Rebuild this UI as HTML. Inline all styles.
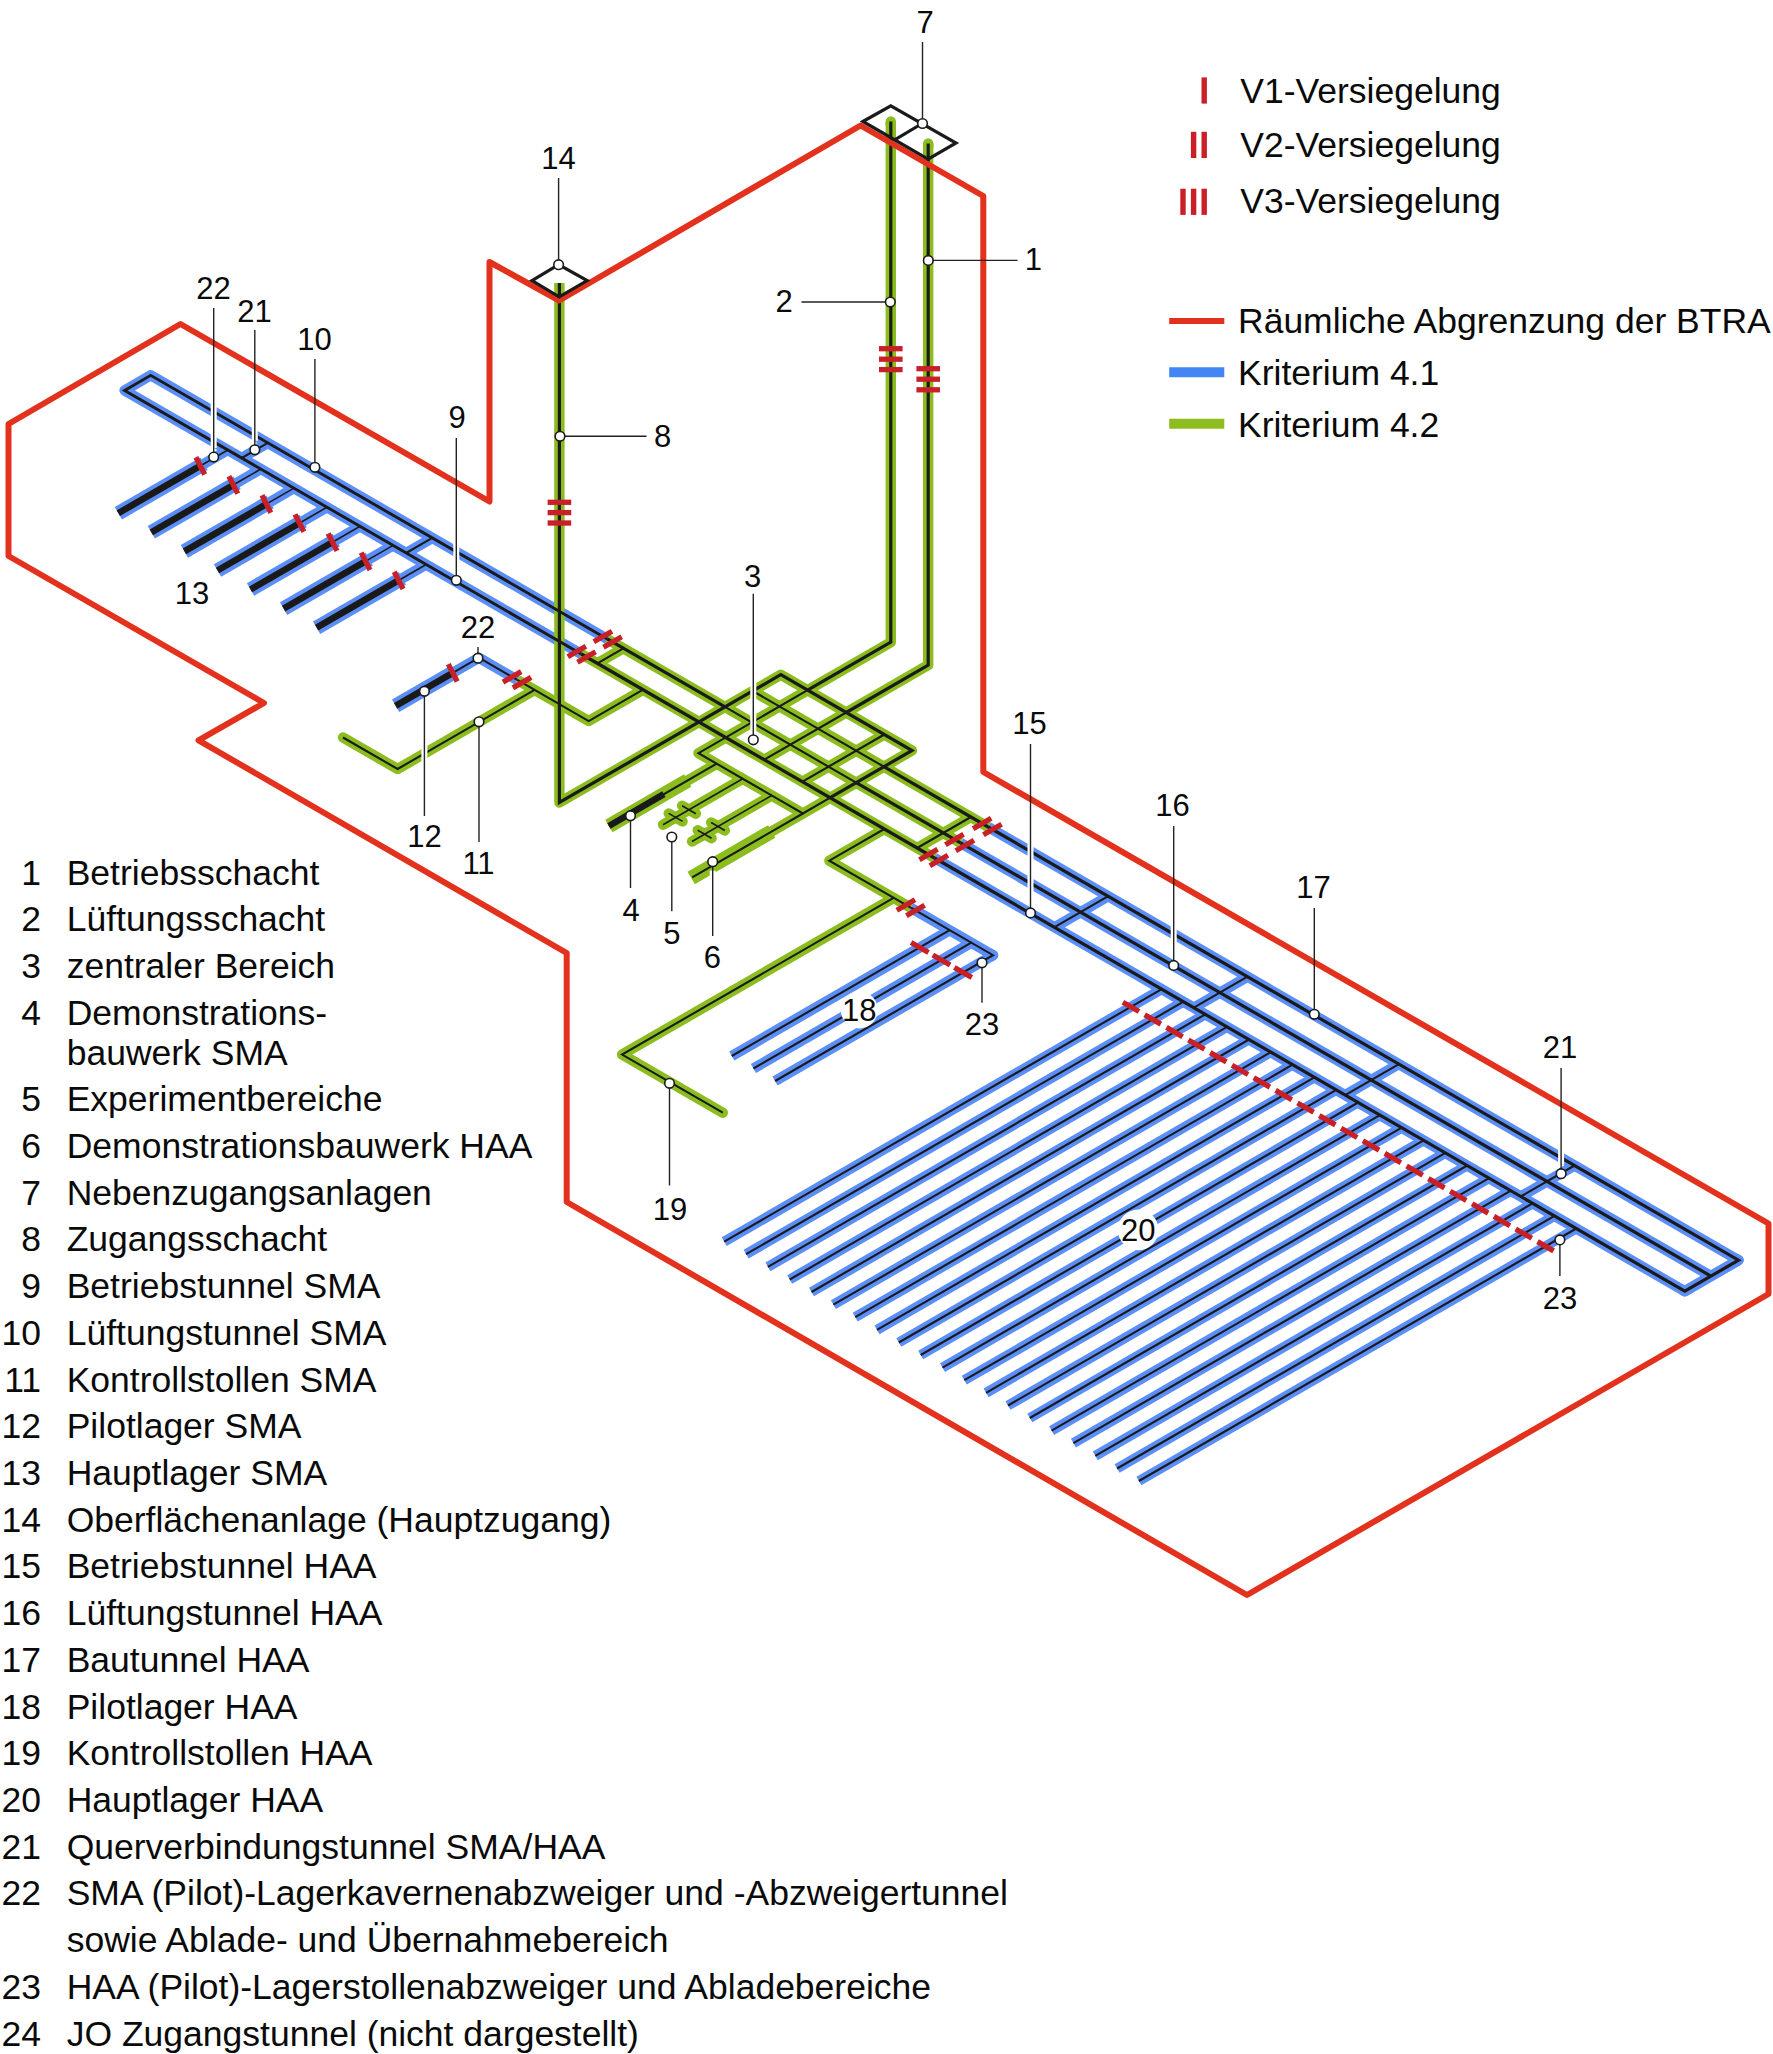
<!DOCTYPE html>
<html lang="de"><head><meta charset="utf-8"><title>Lagerkonzept BTRA</title>
<style>html,body{margin:0;padding:0;background:#fff}svg{display:block}text{font-family:"Liberation Sans",sans-serif}</style>
</head><body>
<svg width="1773" height="2054" viewBox="0 0 1773 2054">
<rect width="1773" height="2054" fill="#fff"/>
<g id="halo-blue"><path d="M581.2,654.0 L124.6,390.4 L150.7,375.3 L607.2,638.9" fill="none" stroke="#5b8ff7" stroke-width="10.40" stroke-linecap="round" stroke-linejoin="round"/>
<path d="M406.2,553.0 L432.3,537.9" fill="none" stroke="#5b8ff7" stroke-width="10.40" stroke-linecap="butt" stroke-linejoin="round"/>
<path d="M241.7,458.0 L267.8,442.9" fill="none" stroke="#5b8ff7" stroke-width="10.40" stroke-linecap="butt" stroke-linejoin="round"/>
<path d="M227.8,450.0 L200.6,465.7" fill="none" stroke="#5b8ff7" stroke-width="10.40" stroke-linecap="butt" stroke-linejoin="round"/>
<path d="M204.0,463.7 L118.3,513.2" fill="none" stroke="#5b8ff7" stroke-width="14.50" stroke-linecap="butt" stroke-linejoin="miter"/>
<path d="M260.9,469.0 L233.6,484.8" fill="none" stroke="#5b8ff7" stroke-width="10.40" stroke-linecap="butt" stroke-linejoin="round"/>
<path d="M237.1,482.8 L151.3,532.3" fill="none" stroke="#5b8ff7" stroke-width="14.50" stroke-linecap="butt" stroke-linejoin="miter"/>
<path d="M294.0,488.1 L266.7,503.9" fill="none" stroke="#5b8ff7" stroke-width="10.40" stroke-linecap="butt" stroke-linejoin="round"/>
<path d="M270.1,501.9 L184.4,551.4" fill="none" stroke="#5b8ff7" stroke-width="14.50" stroke-linecap="butt" stroke-linejoin="miter"/>
<path d="M327.0,507.2 L299.7,523.0" fill="none" stroke="#5b8ff7" stroke-width="10.40" stroke-linecap="butt" stroke-linejoin="round"/>
<path d="M303.2,521.0 L217.5,570.5" fill="none" stroke="#5b8ff7" stroke-width="14.50" stroke-linecap="butt" stroke-linejoin="miter"/>
<path d="M360.1,526.3 L332.8,542.0" fill="none" stroke="#5b8ff7" stroke-width="10.40" stroke-linecap="butt" stroke-linejoin="round"/>
<path d="M336.3,540.0 L250.5,589.5" fill="none" stroke="#5b8ff7" stroke-width="14.50" stroke-linecap="butt" stroke-linejoin="miter"/>
<path d="M393.1,545.4 L365.8,561.1" fill="none" stroke="#5b8ff7" stroke-width="10.40" stroke-linecap="butt" stroke-linejoin="round"/>
<path d="M369.3,559.1 L283.6,608.6" fill="none" stroke="#5b8ff7" stroke-width="14.50" stroke-linecap="butt" stroke-linejoin="miter"/>
<path d="M426.2,564.5 L398.9,580.2" fill="none" stroke="#5b8ff7" stroke-width="10.40" stroke-linecap="butt" stroke-linejoin="round"/>
<path d="M402.4,578.2 L316.6,627.7" fill="none" stroke="#5b8ff7" stroke-width="14.50" stroke-linecap="butt" stroke-linejoin="miter"/>
<path d="M451.5,673.6 L478.9,657.7 L517.3,679.9" fill="none" stroke="#5b8ff7" stroke-width="10.40" stroke-linecap="butt" stroke-linejoin="round"/>
<path d="M454.0,672.1 L395.6,705.8" fill="none" stroke="#5b8ff7" stroke-width="14.50" stroke-linecap="butt" stroke-linejoin="miter"/>
<path d="M910.7,907.7 L993.0,955.2 L775.1,1081.0" fill="none" stroke="#5b8ff7" stroke-width="10.40" stroke-linecap="butt" stroke-linejoin="round"/>
<path d="M990.4,953.7 L993.0,955.2 L990.4,956.7" fill="none" stroke="#5b8ff7" stroke-width="10.40" stroke-linecap="round" stroke-linejoin="round"/>
<path d="M949.7,930.2 L731.8,1056.0" fill="none" stroke="#5b8ff7" stroke-width="10.40" stroke-linecap="butt" stroke-linejoin="round"/>
<path d="M971.3,942.7 L753.4,1068.5" fill="none" stroke="#5b8ff7" stroke-width="10.40" stroke-linecap="butt" stroke-linejoin="round"/>
<path d="M934.5,858.0 L1684.8,1291.2 L1738.5,1260.2 L988.2,827.0" fill="none" stroke="#5b8ff7" stroke-width="10.40" stroke-linecap="butt" stroke-linejoin="round"/>
<path d="M1682.2,1289.7 L1684.8,1291.2 L1738.5,1260.2 L1735.9,1258.7" fill="none" stroke="#5b8ff7" stroke-width="10.40" stroke-linecap="round" stroke-linejoin="round"/>
<path d="M960.6,842.9 L1710.9,1276.1" fill="none" stroke="#5b8ff7" stroke-width="10.40" stroke-linecap="butt" stroke-linejoin="round"/>
<path d="M1054.6,927.2 L1108.2,896.2" fill="none" stroke="#5b8ff7" stroke-width="10.40" stroke-linecap="butt" stroke-linejoin="round"/>
<path d="M1193.8,1007.7 L1247.5,976.7" fill="none" stroke="#5b8ff7" stroke-width="10.40" stroke-linecap="butt" stroke-linejoin="round"/>
<path d="M1345.2,1095.1 L1398.9,1064.1" fill="none" stroke="#5b8ff7" stroke-width="10.40" stroke-linecap="butt" stroke-linejoin="round"/>
<path d="M1520.8,1196.5 L1574.5,1165.5" fill="none" stroke="#5b8ff7" stroke-width="10.40" stroke-linecap="butt" stroke-linejoin="round"/>
<path d="M1161.7,989.1 L724.2,1241.7" fill="none" stroke="#5b8ff7" stroke-width="10.00" stroke-linecap="butt" stroke-linejoin="miter"/>
<path d="M1183.5,1001.7 L746.1,1254.2" fill="none" stroke="#5b8ff7" stroke-width="10.00" stroke-linecap="butt" stroke-linejoin="miter"/>
<path d="M1205.3,1014.3 L767.9,1266.8" fill="none" stroke="#5b8ff7" stroke-width="10.00" stroke-linecap="butt" stroke-linejoin="miter"/>
<path d="M1227.1,1026.9 L789.7,1279.5" fill="none" stroke="#5b8ff7" stroke-width="10.00" stroke-linecap="butt" stroke-linejoin="miter"/>
<path d="M1249.0,1039.5 L811.5,1292.0" fill="none" stroke="#5b8ff7" stroke-width="10.00" stroke-linecap="butt" stroke-linejoin="miter"/>
<path d="M1270.8,1052.1 L833.4,1304.7" fill="none" stroke="#5b8ff7" stroke-width="10.00" stroke-linecap="butt" stroke-linejoin="miter"/>
<path d="M1292.6,1064.7 L855.2,1317.2" fill="none" stroke="#5b8ff7" stroke-width="10.00" stroke-linecap="butt" stroke-linejoin="miter"/>
<path d="M1314.4,1077.3 L877.0,1329.8" fill="none" stroke="#5b8ff7" stroke-width="10.00" stroke-linecap="butt" stroke-linejoin="miter"/>
<path d="M1336.3,1089.9 L898.8,1342.5" fill="none" stroke="#5b8ff7" stroke-width="10.00" stroke-linecap="butt" stroke-linejoin="miter"/>
<path d="M1358.1,1102.5 L920.7,1355.0" fill="none" stroke="#5b8ff7" stroke-width="10.00" stroke-linecap="butt" stroke-linejoin="miter"/>
<path d="M1379.9,1115.1 L942.5,1367.6" fill="none" stroke="#5b8ff7" stroke-width="10.00" stroke-linecap="butt" stroke-linejoin="miter"/>
<path d="M1401.7,1127.7 L964.3,1380.2" fill="none" stroke="#5b8ff7" stroke-width="10.00" stroke-linecap="butt" stroke-linejoin="miter"/>
<path d="M1423.6,1140.3 L986.1,1392.8" fill="none" stroke="#5b8ff7" stroke-width="10.00" stroke-linecap="butt" stroke-linejoin="miter"/>
<path d="M1445.4,1152.9 L1008.0,1405.5" fill="none" stroke="#5b8ff7" stroke-width="10.00" stroke-linecap="butt" stroke-linejoin="miter"/>
<path d="M1467.2,1165.5 L1029.8,1418.0" fill="none" stroke="#5b8ff7" stroke-width="10.00" stroke-linecap="butt" stroke-linejoin="miter"/>
<path d="M1489.0,1178.1 L1051.6,1430.6" fill="none" stroke="#5b8ff7" stroke-width="10.00" stroke-linecap="butt" stroke-linejoin="miter"/>
<path d="M1510.9,1190.7 L1073.4,1443.2" fill="none" stroke="#5b8ff7" stroke-width="10.00" stroke-linecap="butt" stroke-linejoin="miter"/>
<path d="M1532.7,1203.3 L1095.3,1455.8" fill="none" stroke="#5b8ff7" stroke-width="10.00" stroke-linecap="butt" stroke-linejoin="miter"/>
<path d="M1554.5,1215.9 L1117.1,1468.5" fill="none" stroke="#5b8ff7" stroke-width="10.00" stroke-linecap="butt" stroke-linejoin="miter"/>
<path d="M1576.3,1228.5 L1138.9,1481.0" fill="none" stroke="#5b8ff7" stroke-width="10.00" stroke-linecap="butt" stroke-linejoin="miter"/></g>
<g id="halo-green"><path d="M607.2,638.9 L725.0,706.9" fill="none" stroke="#8cbd1f" stroke-width="10.40" stroke-linecap="butt" stroke-linejoin="round"/>
<path d="M725.0,706.9 L856.2,782.7" fill="none" stroke="#8cbd1f" stroke-width="10.40" stroke-linecap="butt" stroke-linejoin="round"/>
<path d="M856.2,782.7 L960.6,842.9" fill="none" stroke="#8cbd1f" stroke-width="10.40" stroke-linecap="butt" stroke-linejoin="round"/>
<path d="M581.2,654.0 L934.5,858.0" fill="none" stroke="#8cbd1f" stroke-width="10.40" stroke-linecap="butt" stroke-linejoin="round"/>
<path d="M752.7,691.0 L883.9,766.7" fill="none" stroke="#8cbd1f" stroke-width="10.40" stroke-linecap="butt" stroke-linejoin="round"/>
<path d="M883.9,766.7 L988.2,827.0" fill="none" stroke="#8cbd1f" stroke-width="10.40" stroke-linecap="butt" stroke-linejoin="round"/>
<path d="M559.4,283.0 L559.4,802.5 L780.8,674.7 L912.0,750.5 L830.2,797.7" fill="none" stroke="#8cbd1f" stroke-width="10.40" stroke-linecap="butt" stroke-linejoin="round"/>
<path d="M830.2,797.7 L802.9,813.5 L698.5,753.2 L807.6,690.2" fill="none" stroke="#8cbd1f" stroke-width="10.40" stroke-linecap="butt" stroke-linejoin="round"/>
<path d="M807.6,690.2 L890.8,642.2 L890.8,121.5" fill="none" stroke="#8cbd1f" stroke-width="10.40" stroke-linecap="butt" stroke-linejoin="round"/>
<path d="M846.2,712.5 L928.2,665.1 L928.2,143.5" fill="none" stroke="#8cbd1f" stroke-width="10.40" stroke-linecap="butt" stroke-linejoin="round"/>
<path d="M890.8,121.5 L890.8,125.0" fill="none" stroke="#8cbd1f" stroke-width="10.40" stroke-linecap="round" stroke-linejoin="miter"/>
<path d="M928.2,143.5 L928.2,147.0" fill="none" stroke="#8cbd1f" stroke-width="10.40" stroke-linecap="round" stroke-linejoin="miter"/>
<path d="M846.2,712.5 L764.3,759.7" fill="none" stroke="#8cbd1f" stroke-width="10.40" stroke-linecap="butt" stroke-linejoin="round"/>
<path d="M884.3,734.5 L802.5,781.7" fill="none" stroke="#8cbd1f" stroke-width="10.40" stroke-linecap="butt" stroke-linejoin="round"/>
<path d="M597.4,663.3 L623.4,648.3" fill="none" stroke="#8cbd1f" stroke-width="10.40" stroke-linecap="butt" stroke-linejoin="round"/>
<path d="M517.3,679.9 L588.7,721.1 L643.1,689.7" fill="none" stroke="#8cbd1f" stroke-width="10.40" stroke-linecap="butt" stroke-linejoin="round"/>
<path d="M534.6,689.9 L397.6,769.0 L343.0,737.5" fill="none" stroke="#8cbd1f" stroke-width="10.40" stroke-linecap="round" stroke-linejoin="round"/>
<path d="M716.7,763.7 L608.9,826.0" fill="none" stroke="#8cbd1f" stroke-width="10.40" stroke-linecap="butt" stroke-linejoin="round"/>
<path d="M687.7,780.5 L608.9,826.0" fill="none" stroke="#8cbd1f" stroke-width="14.50" stroke-linecap="butt" stroke-linejoin="miter"/>
<path d="M742.7,778.7 L663.0,824.7" fill="none" stroke="#8cbd1f" stroke-width="10.40" stroke-linecap="round" stroke-linejoin="round"/>
<path d="M682.1,805.7 L695.9,813.7" fill="none" stroke="#8cbd1f" stroke-width="10.40" stroke-linecap="round" stroke-linejoin="round"/>
<path d="M668.7,813.4 L682.6,821.4" fill="none" stroke="#8cbd1f" stroke-width="10.40" stroke-linecap="round" stroke-linejoin="round"/>
<path d="M771.7,795.5 L692.0,841.5" fill="none" stroke="#8cbd1f" stroke-width="10.40" stroke-linecap="round" stroke-linejoin="round"/>
<path d="M711.1,822.5 L724.9,830.5" fill="none" stroke="#8cbd1f" stroke-width="10.40" stroke-linecap="round" stroke-linejoin="round"/>
<path d="M697.7,830.2 L711.6,838.2" fill="none" stroke="#8cbd1f" stroke-width="10.40" stroke-linecap="round" stroke-linejoin="round"/>
<path d="M802.9,813.5 L692.2,877.4" fill="none" stroke="#8cbd1f" stroke-width="10.40" stroke-linecap="butt" stroke-linejoin="round"/>
<path d="M771.7,831.5 L691.2,878.0" fill="none" stroke="#8cbd1f" stroke-width="14.50" stroke-linecap="butt" stroke-linejoin="miter"/>
<path d="M917.2,848.0 L970.9,817.0" fill="none" stroke="#8cbd1f" stroke-width="10.40" stroke-linecap="butt" stroke-linejoin="round"/>
<path d="M884.3,829.0 L829.3,860.7 L910.7,907.7" fill="none" stroke="#8cbd1f" stroke-width="10.40" stroke-linecap="butt" stroke-linejoin="round"/>
<path d="M893.6,897.9 L622.1,1054.6 L722.8,1112.7" fill="none" stroke="#8cbd1f" stroke-width="10.40" stroke-linecap="round" stroke-linejoin="round"/></g>
<g id="black"><path d="M581.2,654.0 L124.6,390.4 L150.7,375.3 L607.2,638.9" fill="none" stroke="#1a1a1a" stroke-width="2.90" stroke-linecap="butt" stroke-linejoin="miter"/>
<path d="M607.2,638.9 L725.0,706.9" fill="none" stroke="#1a1a1a" stroke-width="3.20" stroke-linecap="butt" stroke-linejoin="miter"/>
<path d="M725.0,706.9 L856.2,782.7" fill="none" stroke="#1a1a1a" stroke-width="2.10" stroke-linecap="butt" stroke-linejoin="miter"/>
<path d="M856.2,782.7 L960.6,842.9" fill="none" stroke="#1a1a1a" stroke-width="3.20" stroke-linecap="butt" stroke-linejoin="miter"/>
<path d="M581.2,654.0 L934.5,858.0" fill="none" stroke="#1a1a1a" stroke-width="3.20" stroke-linecap="butt" stroke-linejoin="miter"/>
<path d="M752.7,691.0 L883.9,766.7" fill="none" stroke="#1a1a1a" stroke-width="2.10" stroke-linecap="butt" stroke-linejoin="miter"/>
<path d="M883.9,766.7 L988.2,827.0" fill="none" stroke="#1a1a1a" stroke-width="3.20" stroke-linecap="butt" stroke-linejoin="miter"/>
<path d="M559.4,283.0 L559.4,802.5 L780.8,674.7 L912.0,750.5 L830.2,797.7" fill="none" stroke="#1a1a1a" stroke-width="3.20" stroke-linecap="butt" stroke-linejoin="miter"/>
<path d="M830.2,797.7 L802.9,813.5 L698.5,753.2 L807.6,690.2" fill="none" stroke="#1a1a1a" stroke-width="2.10" stroke-linecap="butt" stroke-linejoin="miter"/>
<path d="M807.6,690.2 L890.8,642.2 L890.8,121.5" fill="none" stroke="#1a1a1a" stroke-width="3.20" stroke-linecap="butt" stroke-linejoin="miter"/>
<path d="M846.2,712.5 L928.2,665.1 L928.2,143.5" fill="none" stroke="#1a1a1a" stroke-width="3.20" stroke-linecap="butt" stroke-linejoin="miter"/>
<path d="M846.2,712.5 L764.3,759.7" fill="none" stroke="#1a1a1a" stroke-width="2.10" stroke-linecap="butt" stroke-linejoin="miter"/>
<path d="M884.3,734.5 L802.5,781.7" fill="none" stroke="#1a1a1a" stroke-width="2.10" stroke-linecap="butt" stroke-linejoin="miter"/>
<path d="M597.4,663.3 L623.4,648.3" fill="none" stroke="#1a1a1a" stroke-width="2.10" stroke-linecap="butt" stroke-linejoin="miter"/>
<path d="M406.2,553.0 L432.3,537.9" fill="none" stroke="#1a1a1a" stroke-width="2.10" stroke-linecap="butt" stroke-linejoin="miter"/>
<path d="M241.7,458.0 L267.8,442.9" fill="none" stroke="#1a1a1a" stroke-width="2.10" stroke-linecap="butt" stroke-linejoin="miter"/>
<path d="M227.8,450.0 L200.6,465.7" fill="none" stroke="#1a1a1a" stroke-width="1.60" stroke-linecap="butt" stroke-linejoin="miter"/>
<path d="M200.6,465.7 L118.3,513.2" fill="none" stroke="#1a1a1a" stroke-width="6.60" stroke-linecap="butt" stroke-linejoin="miter"/>
<path d="M260.9,469.0 L233.6,484.8" fill="none" stroke="#1a1a1a" stroke-width="1.60" stroke-linecap="butt" stroke-linejoin="miter"/>
<path d="M233.6,484.8 L151.3,532.3" fill="none" stroke="#1a1a1a" stroke-width="6.60" stroke-linecap="butt" stroke-linejoin="miter"/>
<path d="M294.0,488.1 L266.7,503.9" fill="none" stroke="#1a1a1a" stroke-width="1.60" stroke-linecap="butt" stroke-linejoin="miter"/>
<path d="M266.7,503.9 L184.4,551.4" fill="none" stroke="#1a1a1a" stroke-width="6.60" stroke-linecap="butt" stroke-linejoin="miter"/>
<path d="M327.0,507.2 L299.7,523.0" fill="none" stroke="#1a1a1a" stroke-width="1.60" stroke-linecap="butt" stroke-linejoin="miter"/>
<path d="M299.7,523.0 L217.5,570.5" fill="none" stroke="#1a1a1a" stroke-width="6.60" stroke-linecap="butt" stroke-linejoin="miter"/>
<path d="M360.1,526.3 L332.8,542.0" fill="none" stroke="#1a1a1a" stroke-width="1.60" stroke-linecap="butt" stroke-linejoin="miter"/>
<path d="M332.8,542.0 L250.5,589.5" fill="none" stroke="#1a1a1a" stroke-width="6.60" stroke-linecap="butt" stroke-linejoin="miter"/>
<path d="M393.1,545.4 L365.8,561.1" fill="none" stroke="#1a1a1a" stroke-width="1.60" stroke-linecap="butt" stroke-linejoin="miter"/>
<path d="M365.8,561.1 L283.6,608.6" fill="none" stroke="#1a1a1a" stroke-width="6.60" stroke-linecap="butt" stroke-linejoin="miter"/>
<path d="M426.2,564.5 L398.9,580.2" fill="none" stroke="#1a1a1a" stroke-width="1.60" stroke-linecap="butt" stroke-linejoin="miter"/>
<path d="M398.9,580.2 L316.6,627.7" fill="none" stroke="#1a1a1a" stroke-width="6.60" stroke-linecap="butt" stroke-linejoin="miter"/>
<path d="M451.5,673.6 L478.9,657.7 L517.3,679.9" fill="none" stroke="#1a1a1a" stroke-width="2.10" stroke-linecap="butt" stroke-linejoin="miter"/>
<path d="M451.5,673.6 L395.6,705.8" fill="none" stroke="#1a1a1a" stroke-width="6.60" stroke-linecap="butt" stroke-linejoin="miter"/>
<path d="M517.3,679.9 L588.7,721.1 L643.1,689.7" fill="none" stroke="#1a1a1a" stroke-width="2.10" stroke-linecap="butt" stroke-linejoin="miter"/>
<path d="M534.6,689.9 L397.6,769.0 L343.0,737.5" fill="none" stroke="#1a1a1a" stroke-width="2.10" stroke-linecap="butt" stroke-linejoin="miter"/>
<path d="M716.7,763.7 L608.9,826.0" fill="none" stroke="#1a1a1a" stroke-width="2.10" stroke-linecap="butt" stroke-linejoin="miter"/>
<path d="M663.9,794.2 L608.9,826.0" fill="none" stroke="#1a1a1a" stroke-width="6.60" stroke-linecap="butt" stroke-linejoin="miter"/>
<path d="M742.7,778.7 L663.0,824.7" fill="none" stroke="#1a1a1a" stroke-width="1.60" stroke-linecap="butt" stroke-linejoin="miter"/>
<path d="M682.1,805.7 L695.9,813.7" fill="none" stroke="#1a1a1a" stroke-width="1.60" stroke-linecap="butt" stroke-linejoin="miter"/>
<path d="M668.7,813.4 L682.6,821.4" fill="none" stroke="#1a1a1a" stroke-width="1.60" stroke-linecap="butt" stroke-linejoin="miter"/>
<path d="M771.7,795.5 L692.0,841.5" fill="none" stroke="#1a1a1a" stroke-width="1.60" stroke-linecap="butt" stroke-linejoin="miter"/>
<path d="M711.1,822.5 L724.9,830.5" fill="none" stroke="#1a1a1a" stroke-width="1.60" stroke-linecap="butt" stroke-linejoin="miter"/>
<path d="M697.7,830.2 L711.6,838.2" fill="none" stroke="#1a1a1a" stroke-width="1.60" stroke-linecap="butt" stroke-linejoin="miter"/>
<path d="M802.9,813.5 L692.2,877.4" fill="none" stroke="#1a1a1a" stroke-width="2.10" stroke-linecap="butt" stroke-linejoin="miter"/>
<path d="M917.2,848.0 L970.9,817.0" fill="none" stroke="#1a1a1a" stroke-width="2.10" stroke-linecap="butt" stroke-linejoin="miter"/>
<path d="M884.3,829.0 L829.3,860.7 L910.7,907.7" fill="none" stroke="#1a1a1a" stroke-width="2.10" stroke-linecap="butt" stroke-linejoin="miter"/>
<path d="M893.6,897.9 L622.1,1054.6 L722.8,1112.7" fill="none" stroke="#1a1a1a" stroke-width="2.10" stroke-linecap="butt" stroke-linejoin="miter"/>
<path d="M910.7,907.7 L993.0,955.2 L775.1,1081.0" fill="none" stroke="#1a1a1a" stroke-width="2.10" stroke-linecap="butt" stroke-linejoin="miter"/>
<path d="M949.7,930.2 L731.8,1056.0" fill="none" stroke="#1a1a1a" stroke-width="2.10" stroke-linecap="butt" stroke-linejoin="miter"/>
<path d="M971.3,942.7 L753.4,1068.5" fill="none" stroke="#1a1a1a" stroke-width="2.10" stroke-linecap="butt" stroke-linejoin="miter"/>
<path d="M934.5,858.0 L1684.8,1291.2 L1738.5,1260.2 L988.2,827.0" fill="none" stroke="#1a1a1a" stroke-width="3.20" stroke-linecap="butt" stroke-linejoin="miter"/>
<path d="M960.6,842.9 L1710.9,1276.1" fill="none" stroke="#1a1a1a" stroke-width="3.20" stroke-linecap="butt" stroke-linejoin="miter"/>
<path d="M1054.6,927.2 L1108.2,896.2" fill="none" stroke="#1a1a1a" stroke-width="2.10" stroke-linecap="butt" stroke-linejoin="miter"/>
<path d="M1193.8,1007.7 L1247.5,976.7" fill="none" stroke="#1a1a1a" stroke-width="2.10" stroke-linecap="butt" stroke-linejoin="miter"/>
<path d="M1345.2,1095.1 L1398.9,1064.1" fill="none" stroke="#1a1a1a" stroke-width="2.10" stroke-linecap="butt" stroke-linejoin="miter"/>
<path d="M1520.8,1196.5 L1574.5,1165.5" fill="none" stroke="#1a1a1a" stroke-width="2.10" stroke-linecap="butt" stroke-linejoin="miter"/>
<path d="M1161.7,989.1 L724.2,1241.7" fill="none" stroke="#1a1a1a" stroke-width="2.10" stroke-linecap="butt" stroke-linejoin="miter"/>
<path d="M1183.5,1001.7 L746.1,1254.2" fill="none" stroke="#1a1a1a" stroke-width="2.10" stroke-linecap="butt" stroke-linejoin="miter"/>
<path d="M1205.3,1014.3 L767.9,1266.8" fill="none" stroke="#1a1a1a" stroke-width="2.10" stroke-linecap="butt" stroke-linejoin="miter"/>
<path d="M1227.1,1026.9 L789.7,1279.5" fill="none" stroke="#1a1a1a" stroke-width="2.10" stroke-linecap="butt" stroke-linejoin="miter"/>
<path d="M1249.0,1039.5 L811.5,1292.0" fill="none" stroke="#1a1a1a" stroke-width="2.10" stroke-linecap="butt" stroke-linejoin="miter"/>
<path d="M1270.8,1052.1 L833.4,1304.7" fill="none" stroke="#1a1a1a" stroke-width="2.10" stroke-linecap="butt" stroke-linejoin="miter"/>
<path d="M1292.6,1064.7 L855.2,1317.2" fill="none" stroke="#1a1a1a" stroke-width="2.10" stroke-linecap="butt" stroke-linejoin="miter"/>
<path d="M1314.4,1077.3 L877.0,1329.8" fill="none" stroke="#1a1a1a" stroke-width="2.10" stroke-linecap="butt" stroke-linejoin="miter"/>
<path d="M1336.3,1089.9 L898.8,1342.5" fill="none" stroke="#1a1a1a" stroke-width="2.10" stroke-linecap="butt" stroke-linejoin="miter"/>
<path d="M1358.1,1102.5 L920.7,1355.0" fill="none" stroke="#1a1a1a" stroke-width="2.10" stroke-linecap="butt" stroke-linejoin="miter"/>
<path d="M1379.9,1115.1 L942.5,1367.6" fill="none" stroke="#1a1a1a" stroke-width="2.10" stroke-linecap="butt" stroke-linejoin="miter"/>
<path d="M1401.7,1127.7 L964.3,1380.2" fill="none" stroke="#1a1a1a" stroke-width="2.10" stroke-linecap="butt" stroke-linejoin="miter"/>
<path d="M1423.6,1140.3 L986.1,1392.8" fill="none" stroke="#1a1a1a" stroke-width="2.10" stroke-linecap="butt" stroke-linejoin="miter"/>
<path d="M1445.4,1152.9 L1008.0,1405.5" fill="none" stroke="#1a1a1a" stroke-width="2.10" stroke-linecap="butt" stroke-linejoin="miter"/>
<path d="M1467.2,1165.5 L1029.8,1418.0" fill="none" stroke="#1a1a1a" stroke-width="2.10" stroke-linecap="butt" stroke-linejoin="miter"/>
<path d="M1489.0,1178.1 L1051.6,1430.6" fill="none" stroke="#1a1a1a" stroke-width="2.10" stroke-linecap="butt" stroke-linejoin="miter"/>
<path d="M1510.9,1190.7 L1073.4,1443.2" fill="none" stroke="#1a1a1a" stroke-width="2.10" stroke-linecap="butt" stroke-linejoin="miter"/>
<path d="M1532.7,1203.3 L1095.3,1455.8" fill="none" stroke="#1a1a1a" stroke-width="2.10" stroke-linecap="butt" stroke-linejoin="miter"/>
<path d="M1554.5,1215.9 L1117.1,1468.5" fill="none" stroke="#1a1a1a" stroke-width="2.10" stroke-linecap="butt" stroke-linejoin="miter"/>
<path d="M1576.3,1228.5 L1138.9,1481.0" fill="none" stroke="#1a1a1a" stroke-width="2.10" stroke-linecap="butt" stroke-linejoin="miter"/></g>
<g id="seals" stroke="#c92027" stroke-width="5.3" fill="none"><line x1="195.9" y1="457.2" x2="204.7" y2="474.5"/>
<line x1="228.9" y1="476.2" x2="237.8" y2="493.6"/>
<line x1="262.0" y1="495.3" x2="270.8" y2="512.7"/>
<line x1="295.0" y1="514.4" x2="303.9" y2="531.8"/>
<line x1="328.1" y1="533.5" x2="337.0" y2="550.9"/>
<line x1="361.2" y1="552.6" x2="370.0" y2="570.0"/>
<line x1="394.2" y1="571.7" x2="403.1" y2="589.0"/>
<line x1="448.3" y1="664.1" x2="457.2" y2="681.5"/>
<line x1="911.1" y1="942.5" x2="928.5" y2="952.5"/>
<line x1="932.8" y1="955.0" x2="950.1" y2="965.0"/>
<line x1="954.4" y1="967.5" x2="971.8" y2="977.5"/>
<line x1="1122.9" y1="1002.2" x2="1139.0" y2="1011.5"/>
<line x1="1144.7" y1="1014.8" x2="1160.8" y2="1024.1"/>
<line x1="1166.5" y1="1027.4" x2="1182.6" y2="1036.7"/>
<line x1="1188.4" y1="1040.0" x2="1204.5" y2="1049.3"/>
<line x1="1210.2" y1="1052.6" x2="1226.3" y2="1061.9"/>
<line x1="1232.0" y1="1065.2" x2="1248.1" y2="1074.5"/>
<line x1="1253.8" y1="1077.8" x2="1269.9" y2="1087.1"/>
<line x1="1275.6" y1="1090.4" x2="1291.8" y2="1099.7"/>
<line x1="1297.5" y1="1103.0" x2="1313.6" y2="1112.3"/>
<line x1="1319.3" y1="1115.6" x2="1335.4" y2="1124.9"/>
<line x1="1341.1" y1="1128.2" x2="1357.2" y2="1137.5"/>
<line x1="1362.9" y1="1140.8" x2="1379.1" y2="1150.1"/>
<line x1="1384.8" y1="1153.4" x2="1400.9" y2="1162.7"/>
<line x1="1406.6" y1="1166.0" x2="1422.7" y2="1175.3"/>
<line x1="1428.4" y1="1178.6" x2="1444.5" y2="1187.9"/>
<line x1="1450.2" y1="1191.2" x2="1466.3" y2="1200.5"/>
<line x1="1472.1" y1="1203.8" x2="1488.2" y2="1213.1"/>
<line x1="1493.9" y1="1216.4" x2="1510.0" y2="1225.7"/>
<line x1="1515.7" y1="1229.0" x2="1531.8" y2="1238.3"/>
<line x1="1537.5" y1="1241.6" x2="1553.6" y2="1250.9"/>
<line x1="593.8" y1="641.7" x2="612.0" y2="631.2"/>
<line x1="567.8" y1="656.7" x2="585.9" y2="646.2"/>
<line x1="603.5" y1="647.3" x2="621.7" y2="636.8"/>
<line x1="577.5" y1="662.3" x2="595.6" y2="651.8"/>
<line x1="973.1" y1="828.7" x2="991.2" y2="818.2"/>
<line x1="945.4" y1="844.7" x2="963.6" y2="834.2"/>
<line x1="919.4" y1="859.7" x2="937.6" y2="849.2"/>
<line x1="983.4" y1="834.7" x2="1001.6" y2="824.2"/>
<line x1="955.8" y1="850.7" x2="974.0" y2="840.2"/>
<line x1="929.8" y1="865.7" x2="947.9" y2="855.2"/>
<line x1="503.0" y1="682.1" x2="521.2" y2="671.6"/>
<line x1="512.9" y1="687.9" x2="531.1" y2="677.4"/>
<line x1="896.8" y1="910.2" x2="915.0" y2="899.7"/>
<line x1="906.4" y1="915.7" x2="924.6" y2="905.2"/>
<line x1="547.6" y1="502.3" x2="571.2" y2="502.3"/>
<line x1="547.6" y1="512.6" x2="571.2" y2="512.6"/>
<line x1="547.6" y1="523.0" x2="571.2" y2="523.0"/>
<line x1="879.0" y1="348.7" x2="902.6" y2="348.7"/>
<line x1="879.0" y1="359.2" x2="902.6" y2="359.2"/>
<line x1="879.0" y1="369.6" x2="902.6" y2="369.6"/>
<line x1="916.4" y1="368.7" x2="940.0" y2="368.7"/>
<line x1="916.4" y1="379.2" x2="940.0" y2="379.2"/>
<line x1="916.4" y1="389.8" x2="940.0" y2="389.8"/></g>
<g stroke="#fff" stroke-width="6"><line x1="213.7" y1="308.0" x2="213.7" y2="448.1"/><line x1="254.8" y1="330.0" x2="254.8" y2="440.8"/><line x1="314.9" y1="359.0" x2="314.9" y2="458.3"/><line x1="456.3" y1="438.0" x2="456.3" y2="571.3"/><line x1="558.6" y1="178.0" x2="558.6" y2="255.7"/><line x1="922.5" y1="42.0" x2="922.5" y2="114.5"/><line x1="1017.5" y1="260.4" x2="937.3" y2="260.4"/><line x1="801.5" y1="302.0" x2="881.3" y2="302.0"/><line x1="646.5" y1="436.3" x2="569.0" y2="436.3"/><line x1="478.0" y1="647.0" x2="478.0" y2="649.2"/><line x1="753.3" y1="593.8" x2="753.3" y2="730.8"/><line x1="424.4" y1="816.0" x2="424.4" y2="700.2"/><line x1="479.0" y1="842.0" x2="479.0" y2="730.8"/><line x1="630.5" y1="888.0" x2="630.5" y2="824.7"/><line x1="671.8" y1="911.3" x2="671.8" y2="846.0"/><line x1="712.7" y1="936.0" x2="712.7" y2="870.7"/><line x1="1030.5" y1="744.0" x2="1030.5" y2="903.9"/><line x1="1173.7" y1="826.0" x2="1173.7" y2="956.4"/><line x1="1314.3" y1="908.0" x2="1314.3" y2="1005.3"/><line x1="982.0" y1="1002.7" x2="982.0" y2="971.8"/><line x1="669.5" y1="1185.5" x2="669.5" y2="1092.3"/><line x1="1561.1" y1="1068.0" x2="1561.1" y2="1164.7"/><line x1="1559.9" y1="1276.0" x2="1559.9" y2="1248.9"/></g>
<path d="M180.5,324.0 L489.5,501.5 L489.5,262.0 L559.2,300.5 L860.6,125.5 L983.3,196.0 L983.3,772.0 L1768.5,1223.5 L1768.5,1294.0 L1247.0,1595.0 L566.7,1202.0 L566.7,953.0 L198.5,740.3 L264.0,703.0 L8.5,556.0 L8.5,424.0 Z" fill="none" stroke="#e2311d" stroke-width="6" stroke-linejoin="round"/>
<g fill="none" stroke="#1a1a1a" stroke-width="3.2" stroke-linejoin="miter"><path d="M532,280.6 L558.6,264.7 L587.2,280.6 L559.2,296.9 Z"/><path d="M862.9,121.5 L890.8,105.8 L956,143 L928.1,159.1 Z M922.1,123.5 L895.1,139.6"/></g>
<g font-size="31" fill="#0a0a0a"><line x1="213.7" y1="308.0" x2="213.7" y2="457.1" stroke="#222" stroke-width="1.4"/>
<circle cx="213.7" cy="457.1" r="4.8" fill="#fff" stroke="#1a1a1a" stroke-width="1.6"/>
<text x="213.5" y="299.0" text-anchor="middle">22</text>
<line x1="254.8" y1="330.0" x2="254.8" y2="449.8" stroke="#222" stroke-width="1.4"/>
<circle cx="254.8" cy="449.8" r="4.8" fill="#fff" stroke="#1a1a1a" stroke-width="1.6"/>
<text x="254.5" y="321.5" text-anchor="middle">21</text>
<line x1="314.9" y1="359.0" x2="314.9" y2="467.3" stroke="#222" stroke-width="1.4"/>
<circle cx="314.9" cy="467.3" r="4.8" fill="#fff" stroke="#1a1a1a" stroke-width="1.6"/>
<text x="314.5" y="350.0" text-anchor="middle">10</text>
<line x1="456.3" y1="438.0" x2="456.3" y2="580.3" stroke="#222" stroke-width="1.4"/>
<circle cx="456.3" cy="580.3" r="4.8" fill="#fff" stroke="#1a1a1a" stroke-width="1.6"/>
<text x="457.0" y="428.0" text-anchor="middle">9</text>
<line x1="558.6" y1="178.0" x2="558.6" y2="264.7" stroke="#222" stroke-width="1.4"/>
<circle cx="558.6" cy="264.7" r="4.8" fill="#fff" stroke="#1a1a1a" stroke-width="1.6"/>
<text x="558.5" y="169.0" text-anchor="middle">14</text>
<line x1="922.5" y1="42.0" x2="922.5" y2="123.5" stroke="#222" stroke-width="1.4"/>
<circle cx="922.5" cy="123.5" r="4.8" fill="#fff" stroke="#1a1a1a" stroke-width="1.6"/>
<text x="925.0" y="33.0" text-anchor="middle">7</text>
<line x1="1017.5" y1="260.4" x2="928.3" y2="260.4" stroke="#222" stroke-width="1.4"/>
<circle cx="928.3" cy="260.4" r="4.8" fill="#fff" stroke="#1a1a1a" stroke-width="1.6"/>
<text x="1033.3" y="270.0" text-anchor="middle">1</text>
<line x1="801.5" y1="302.0" x2="890.3" y2="302.0" stroke="#222" stroke-width="1.4"/>
<circle cx="890.3" cy="302.0" r="4.8" fill="#fff" stroke="#1a1a1a" stroke-width="1.6"/>
<text x="784.0" y="311.5" text-anchor="middle">2</text>
<line x1="646.5" y1="436.3" x2="560.0" y2="436.3" stroke="#222" stroke-width="1.4"/>
<circle cx="560.0" cy="436.3" r="4.8" fill="#fff" stroke="#1a1a1a" stroke-width="1.6"/>
<text x="662.5" y="447.0" text-anchor="middle">8</text>
<line x1="478.0" y1="647.0" x2="478.0" y2="658.2" stroke="#222" stroke-width="1.4"/>
<circle cx="478.0" cy="658.2" r="4.8" fill="#fff" stroke="#1a1a1a" stroke-width="1.6"/>
<text x="478.0" y="638.0" text-anchor="middle">22</text>
<line x1="753.3" y1="593.8" x2="753.3" y2="739.8" stroke="#222" stroke-width="1.4"/>
<circle cx="753.3" cy="739.8" r="4.8" fill="#fff" stroke="#1a1a1a" stroke-width="1.6"/>
<text x="752.5" y="587.0" text-anchor="middle">3</text>
<line x1="424.4" y1="816.0" x2="424.4" y2="691.2" stroke="#222" stroke-width="1.4"/>
<circle cx="424.4" cy="691.2" r="4.8" fill="#fff" stroke="#1a1a1a" stroke-width="1.6"/>
<text x="424.5" y="846.5" text-anchor="middle">12</text>
<line x1="479.0" y1="842.0" x2="479.0" y2="721.8" stroke="#222" stroke-width="1.4"/>
<circle cx="479.0" cy="721.8" r="4.8" fill="#fff" stroke="#1a1a1a" stroke-width="1.6"/>
<text x="478.5" y="873.5" text-anchor="middle">11</text>
<line x1="630.5" y1="888.0" x2="630.5" y2="815.7" stroke="#222" stroke-width="1.4"/>
<circle cx="630.5" cy="815.7" r="4.8" fill="#fff" stroke="#1a1a1a" stroke-width="1.6"/>
<text x="631.0" y="920.5" text-anchor="middle">4</text>
<line x1="671.8" y1="911.3" x2="671.8" y2="837.0" stroke="#222" stroke-width="1.4"/>
<circle cx="671.8" cy="837.0" r="4.8" fill="#fff" stroke="#1a1a1a" stroke-width="1.6"/>
<text x="671.8" y="943.7" text-anchor="middle">5</text>
<line x1="712.7" y1="936.0" x2="712.7" y2="861.7" stroke="#222" stroke-width="1.4"/>
<circle cx="712.7" cy="861.7" r="4.8" fill="#fff" stroke="#1a1a1a" stroke-width="1.6"/>
<text x="712.4" y="968.4" text-anchor="middle">6</text>
<line x1="1030.5" y1="744.0" x2="1030.5" y2="912.9" stroke="#222" stroke-width="1.4"/>
<circle cx="1030.5" cy="912.9" r="4.8" fill="#fff" stroke="#1a1a1a" stroke-width="1.6"/>
<text x="1029.5" y="734.0" text-anchor="middle">15</text>
<line x1="1173.7" y1="826.0" x2="1173.7" y2="965.4" stroke="#222" stroke-width="1.4"/>
<circle cx="1173.7" cy="965.4" r="4.8" fill="#fff" stroke="#1a1a1a" stroke-width="1.6"/>
<text x="1172.5" y="816.0" text-anchor="middle">16</text>
<line x1="1314.3" y1="908.0" x2="1314.3" y2="1014.3" stroke="#222" stroke-width="1.4"/>
<circle cx="1314.3" cy="1014.3" r="4.8" fill="#fff" stroke="#1a1a1a" stroke-width="1.6"/>
<text x="1313.5" y="898.0" text-anchor="middle">17</text>
<line x1="982.0" y1="1002.7" x2="982.0" y2="962.8" stroke="#222" stroke-width="1.4"/>
<circle cx="982.0" cy="962.8" r="4.8" fill="#fff" stroke="#1a1a1a" stroke-width="1.6"/>
<text x="982.0" y="1035.0" text-anchor="middle">23</text>
<line x1="669.5" y1="1185.5" x2="669.5" y2="1083.3" stroke="#222" stroke-width="1.4"/>
<circle cx="669.5" cy="1083.3" r="4.8" fill="#fff" stroke="#1a1a1a" stroke-width="1.6"/>
<text x="670.0" y="1219.5" text-anchor="middle">19</text>
<line x1="1561.1" y1="1068.0" x2="1561.1" y2="1173.7" stroke="#222" stroke-width="1.4"/>
<circle cx="1561.1" cy="1173.7" r="4.8" fill="#fff" stroke="#1a1a1a" stroke-width="1.6"/>
<text x="1560.0" y="1058.0" text-anchor="middle">21</text>
<line x1="1559.9" y1="1276.0" x2="1559.9" y2="1239.9" stroke="#222" stroke-width="1.4"/>
<circle cx="1559.9" cy="1239.9" r="4.8" fill="#fff" stroke="#1a1a1a" stroke-width="1.6"/>
<text x="1560.0" y="1309.0" text-anchor="middle">23</text>
<text x="192.0" y="604.0" text-anchor="middle">13</text>
<circle cx="859.3" cy="1009.9" r="18.5" fill="#fff"/><text x="859.3" y="1020.9" text-anchor="middle">18</text>
<circle cx="1138.2" cy="1229.9" r="20.3" fill="#fff"/><text x="1138.2" y="1240.9" text-anchor="middle">20</text></g>
<g font-size="35.5" fill="#0a0a0a"><rect x="1201.5" y="77.4" width="5.4" height="26.2" fill="#c92027"/>
<rect x="1190.9" y="131.8" width="5.4" height="26.2" fill="#c92027"/>
<rect x="1201.5" y="131.8" width="5.4" height="26.2" fill="#c92027"/>
<rect x="1180.3" y="188.7" width="5.4" height="26.2" fill="#c92027"/>
<rect x="1190.9" y="188.7" width="5.4" height="26.2" fill="#c92027"/>
<rect x="1201.5" y="188.7" width="5.4" height="26.2" fill="#c92027"/>
<line x1="1169.2" y1="321.1" x2="1224.3" y2="321.1" stroke="#e2311d" stroke-width="6"/>
<line x1="1169.2" y1="372.2" x2="1224.3" y2="372.2" stroke="#4385f5" stroke-width="10"/>
<line x1="1169.2" y1="423.8" x2="1224.3" y2="423.8" stroke="#8fbd1f" stroke-width="10"/>
<text x="1240.3" y="102.8">V1-Versiegelung</text>
<text x="1240.3" y="157.2">V2-Versiegelung</text>
<text x="1240.3" y="213.4">V3-Versiegelung</text>
<text x="1238.0" y="332.6">Räumliche Abgrenzung der BTRA</text>
<text x="1238.0" y="384.6">Kriterium 4.1</text>
<text x="1238.0" y="436.7">Kriterium 4.2</text>
<text x="41" y="884.6" text-anchor="end">1</text>
<text x="66.7" y="884.6">Betriebsschacht</text>
<text x="41" y="931.3" text-anchor="end">2</text>
<text x="66.7" y="931.3">Lüftungsschacht</text>
<text x="41" y="978.0" text-anchor="end">3</text>
<text x="66.7" y="978.0">zentraler Bereich</text>
<text x="41" y="1024.8" text-anchor="end">4</text>
<text x="66.7" y="1024.8">Demonstrations-</text>
<text x="66.7" y="1064.5">bauwerk SMA</text>
<text x="41" y="1111.2" text-anchor="end">5</text>
<text x="66.7" y="1111.2">Experimentbereiche</text>
<text x="41" y="1157.9" text-anchor="end">6</text>
<text x="66.7" y="1157.9">Demonstrationsbauwerk HAA</text>
<text x="41" y="1204.6" text-anchor="end">7</text>
<text x="66.7" y="1204.6">Nebenzugangsanlagen</text>
<text x="41" y="1251.3" text-anchor="end">8</text>
<text x="66.7" y="1251.3">Zugangsschacht</text>
<text x="41" y="1298.1" text-anchor="end">9</text>
<text x="66.7" y="1298.1">Betriebstunnel SMA</text>
<text x="41" y="1344.8" text-anchor="end">10</text>
<text x="66.7" y="1344.8">Lüftungstunnel SMA</text>
<text x="41" y="1391.5" text-anchor="end">11</text>
<text x="66.7" y="1391.5">Kontrollstollen SMA</text>
<text x="41" y="1438.2" text-anchor="end">12</text>
<text x="66.7" y="1438.2">Pilotlager SMA</text>
<text x="41" y="1484.9" text-anchor="end">13</text>
<text x="66.7" y="1484.9">Hauptlager SMA</text>
<text x="41" y="1531.7" text-anchor="end">14</text>
<text x="66.7" y="1531.7">Oberflächenanlage (Hauptzugang)</text>
<text x="41" y="1578.4" text-anchor="end">15</text>
<text x="66.7" y="1578.4">Betriebstunnel HAA</text>
<text x="41" y="1625.1" text-anchor="end">16</text>
<text x="66.7" y="1625.1">Lüftungstunnel HAA</text>
<text x="41" y="1671.8" text-anchor="end">17</text>
<text x="66.7" y="1671.8">Bautunnel HAA</text>
<text x="41" y="1718.5" text-anchor="end">18</text>
<text x="66.7" y="1718.5">Pilotlager HAA</text>
<text x="41" y="1765.3" text-anchor="end">19</text>
<text x="66.7" y="1765.3">Kontrollstollen HAA</text>
<text x="41" y="1812.0" text-anchor="end">20</text>
<text x="66.7" y="1812.0">Hauptlager HAA</text>
<text x="41" y="1858.7" text-anchor="end">21</text>
<text x="66.7" y="1858.7">Querverbindungstunnel SMA/HAA</text>
<text x="41" y="1905.4" text-anchor="end">22</text>
<text x="66.7" y="1905.4">SMA (Pilot)-Lagerkavernenabzweiger und -Abzweigertunnel</text>
<text x="66.7" y="1952.1">sowie Ablade- und Übernahmebereich</text>
<text x="41" y="1998.9" text-anchor="end">23</text>
<text x="66.7" y="1998.9">HAA (Pilot)-Lagerstollenabzweiger und Abladebereiche</text>
<text x="41" y="2045.6" text-anchor="end">24</text>
<text x="66.7" y="2045.6">JO Zugangstunnel (nicht dargestellt)</text></g>
</svg>
</body></html>
